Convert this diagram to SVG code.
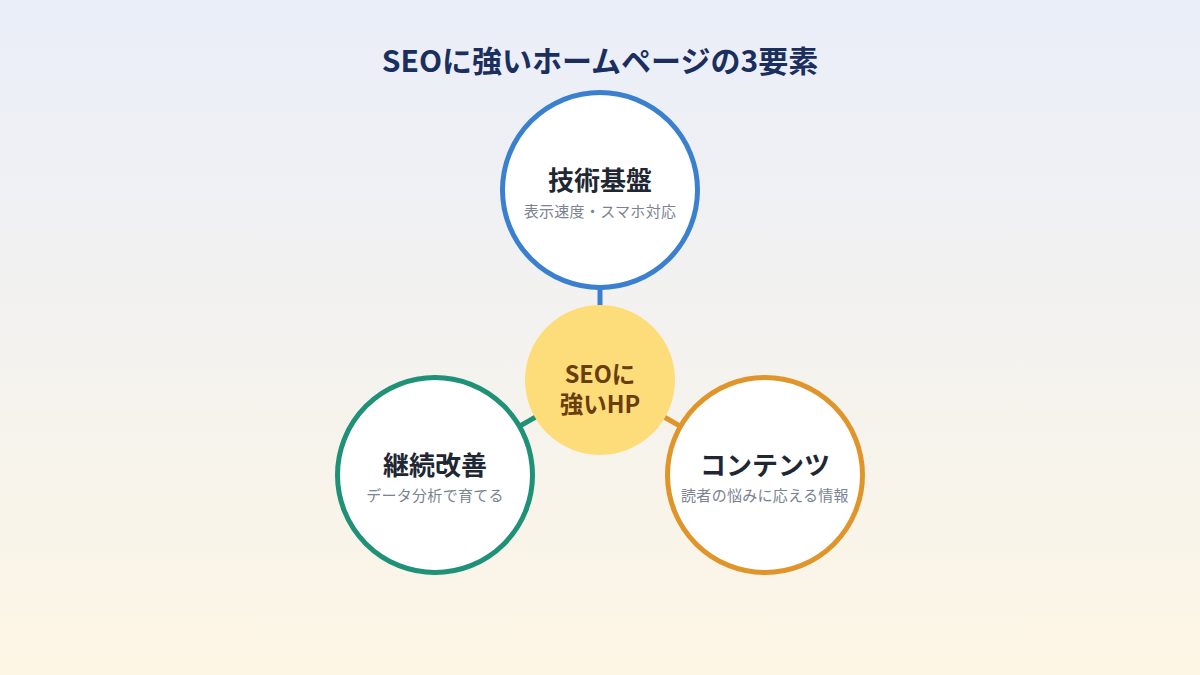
<svg xmlns="http://www.w3.org/2000/svg" width="1200" height="675" viewBox="0 0 1200 675">
<defs>
<linearGradient id="bg" x1="0" y1="0" x2="0" y2="1">
<stop offset="0" stop-color="#eaeef9"/>
<stop offset="1" stop-color="#fdf6e5"/>
</linearGradient>
<style>
text{font-family:"Noto Sans CJK JP","Noto Sans",sans-serif;text-anchor:middle}
.title{font-size:30px;font-weight:700;fill:#1b2f5e}
.nt{font-size:26px;font-weight:700;fill:#1f2733}
.ns{font-size:15px;letter-spacing:0.3px;fill:#7b8290}
.ct{font-size:23.5px;font-weight:700;fill:#6a3d0c}
.node{fill:#ffffff;stroke-width:5}
</style>
</defs>
<rect width="1200" height="675" fill="url(#bg)"/>
<text class="title" x="600" y="72">SEOに強いホームページの3要素</text>
<g id="connectors" stroke-width="5">
<line x1="600" y1="380" x2="600" y2="190" stroke="#3b80cf"/>
<line x1="600" y1="380" x2="435" y2="475" stroke="#1f9176"/>
<line x1="600" y1="380" x2="765" y2="475" stroke="#e0952b"/>
</g>
<g id="node-tech">
<circle class="node" cx="600" cy="190" r="97.5" stroke="#3b80cf"/>
<text class="nt" x="600" y="190">技術基盤</text>
<text class="ns" x="600" y="217">表示速度・スマホ対応</text>
</g>
<g id="node-improve">
<circle class="node" cx="435" cy="475" r="97.5" stroke="#1f9176"/>
<text class="nt" x="435" y="475">継続改善</text>
<text class="ns" x="435" y="501">データ分析で育てる</text>
</g>
<g id="node-content">
<circle class="node" cx="765" cy="475" r="97.5" stroke="#e0952b"/>
<text class="nt" x="765" y="475">コンテンツ</text>
<text class="ns" x="765" y="501">読者の悩みに応える情報</text>
</g>
<g id="node-center">
<circle cx="600" cy="380" r="75" fill="#fddc7a"/>
<text class="ct" x="600" y="383"><tspan x="600" y="383">SEOに</tspan><tspan x="600" y="413">強いHP</tspan></text>
</g>
</svg>
